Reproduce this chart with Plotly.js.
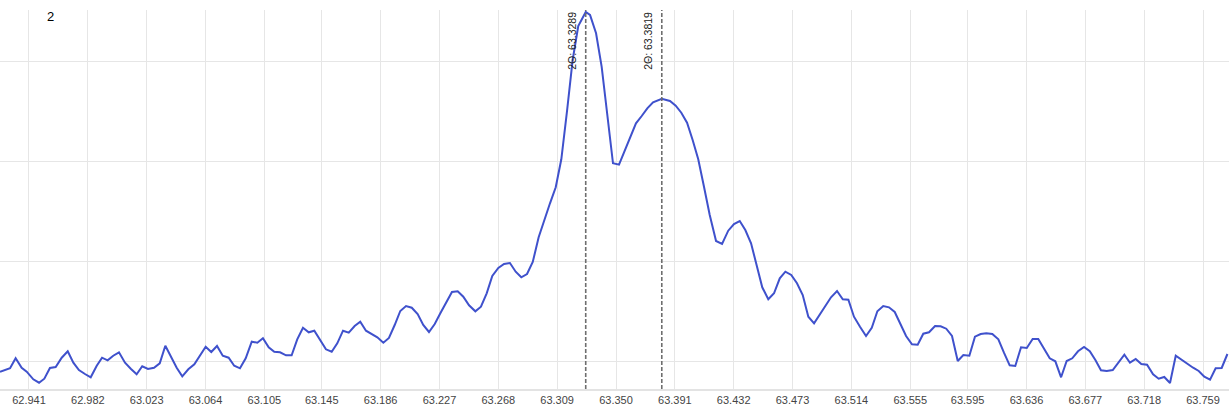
<!DOCTYPE html>
<html>
<head>
<meta charset="utf-8">
<script src="https://cdn.plot.ly/plotly-3.0.1.min.js"></script>
<style>
html,body{margin:0;padding:0;background:#fff;}
#chart{width:1229px;height:415px;}
</style>
</head>
<body>
<div id="chart"></div>
<script>
// 2-theta positions (degrees)
const twoTheta = [
62.9208,62.9241,62.9278,62.9317,62.9359,62.9394,62.9440,62.9480,62.9517,62.9556,
62.9596,62.9638,62.9680,62.9719,62.9758,62.9800,62.9840,62.9882,62.9919,62.9958,
62.9997,63.0037,63.0079,63.0119,63.0160,63.0199,63.0239,63.0281,63.0321,63.0360,
63.0399,63.0439,63.0478,63.0520,63.0562,63.0601,63.0641,63.0680,63.0720,63.0760,
63.0801,63.0840,63.0880,63.0920,63.0962,63.1001,63.1040,63.1080,63.1119,63.1159,
63.1201,63.1240,63.1279,63.1319,63.1359,63.1398,63.1438,63.1479,63.1519,63.1558,
63.1598,63.1638,63.1679,63.1718,63.1758,63.1798,63.1837,63.1879,63.1918,63.1958,
63.1997,63.2037,63.2077,63.2118,63.2157,63.2197,63.2237,63.2276,63.2315,63.2357,
63.2397,63.2436,63.2476,63.2520,63.2559,63.2599,63.2638,63.2680,63.2720,63.2761,
63.2801,63.2840,63.2880,63.2920,63.2961,63.3000,63.3040,63.3080,63.3119,63.3159,
63.3198,63.3237,63.3289,63.3319,63.3361,63.3400,63.3439,63.3479,63.3521,63.3561,
63.3600,63.3639,63.3679,63.3718,63.3758,63.3798,63.3819,63.3876,63.3916,63.3955,
63.3995,63.4034,63.4073,63.4113,63.4153,63.4197,63.4239,63.4282,63.4322,63.4362,
63.4401,63.4441,63.4480,63.4519,63.4561,63.4601,63.4641,63.4680,63.4721,63.4761,
63.4801,63.4840,63.4880,63.4919,63.4958,63.4998,63.5040,63.5080,63.5119,63.5158,
63.5200,63.5242,63.5282,63.5321,63.5362,63.5402,63.5442,63.5481,63.5521,63.5562,
63.5602,63.5641,63.5681,63.5723,63.5762,63.5801,63.5841,63.5881,63.5920,63.5962,
63.6001,63.6041,63.6080,63.6122,63.6164,63.6203,63.6243,63.6282,63.6322,63.6362,
63.6403,63.6442,63.6482,63.6522,63.6561,63.6601,63.6640,63.6679,63.6719,63.6761,
63.6801,63.6840,63.6879,63.6919,63.6961,63.7000,63.7042,63.7081,63.7121,63.7160,
63.7200,63.7242,63.7281,63.7320,63.7360,63.7400,63.7442,63.7481,63.7521,63.7560,
63.7599,63.7639,63.7678,63.7720,63.7760
];
// intensity (counts, arbitrary)
const intensity = [
893,910,927,1027,933,893,817,783,823,930,
940,1033,1097,983,910,870,837,953,1033,1007,
1053,1087,983,923,867,947,920,933,977,1153,
1043,933,847,917,967,1053,1143,1090,1150,1053,
1033,953,927,1027,1193,1183,1227,1137,1093,1087,
1057,1057,1217,1333,1287,1303,1210,1117,1093,1177,
1303,1283,1350,1393,1303,1267,1237,1183,1230,1360,
1500,1550,1533,1470,1360,1290,1370,1477,1583,1690,
1697,1643,1557,1497,1543,1677,1850,1930,1970,1980,
1893,1837,1870,1990,2237,2410,2577,2737,3017,3503,
4010,4350,4490,4460,4277,3943,3443,2977,2963,3100,
3237,3377,3450,3527,3587,3610,3622,3600,3553,3483,
3383,3210,3017,2743,2460,2200,2170,2303,2370,2400,
2310,2177,1943,1737,1617,1677,1827,1893,1860,1777,
1660,1443,1377,1460,1550,1637,1700,1617,1613,1443,
1343,1250,1333,1497,1550,1537,1490,1377,1250,1167,
1163,1273,1287,1350,1347,1323,1250,1000,1060,1053,
1243,1270,1277,1270,1217,1083,957,950,1137,1130,
1220,1220,1123,1027,997,837,1000,1027,1097,1140,
1097,1010,907,900,910,987,1063,983,1020,970,
963,867,823,840,780,1053,1010,967,933,900,
843,813,927,930,1070
];
// peak markers
const peakPositions = [63.3289, 63.3819];
const peakLabels = ['2Θ: 63.3289', '2Θ: 63.3819'];
// x-axis ticks
const tickValues = [62.941,62.982,63.023,63.064,63.105,63.145,63.186,63.227,63.268,63.309,
  63.350,63.391,63.432,63.473,63.514,63.555,63.595,63.636,63.677,63.718,63.759];
const tickLabels = ['62.941','62.982','63.023','63.064','63.105','63.145','63.186','63.227','63.268','63.309',
  '63.350','63.391','63.432','63.473','63.514','63.555','63.595','63.636','63.677','63.718','63.759'];
const seriesName = '2';

const trace = {
  x: twoTheta, y: intensity, type: 'scatter', mode: 'lines',
  name: seriesName,
  line: {color: '#3f51cc', width: 2},
  hoverinfo: 'skip'
};

const shapes = peakPositions.map(p => ({
  type: 'line', xref: 'x', yref: 'paper', x0: p, x1: p, y0: 0, y1: 1,
  line: {color: '#6e6e6e', width: 1.6, dash: '4px,2px'}
}));

const annotations = peakPositions.map((p, i) => ({
  x: p, xref: 'x', y: 0.918, yref: 'paper', text: peakLabels[i],
  showarrow: false, textangle: -90, xanchor: 'center', yanchor: 'middle', xshift: -14,
  font: {family: 'Liberation Sans, Arial, sans-serif', size: 10.5, color: '#222'}
}));
annotations.push({
  x: 50 / 1229, xref: 'paper', y: (389 - 16) / 379, yref: 'paper', text: seriesName,
  showarrow: false, xanchor: 'center', yanchor: 'middle',
  font: {family: 'Liberation Sans, Arial, sans-serif', size: 13, color: '#000'}
});

const layout = {
  width: 1229, height: 415,
  margin: {l: 0, r: 0, t: 10, b: 26, pad: 0},
  paper_bgcolor: '#ffffff', plot_bgcolor: '#ffffff',
  showlegend: false,
  xaxis: {
    range: [62.9208, 63.7771], tickmode: 'array', tickvals: tickValues, ticktext: tickLabels,
    showgrid: true, gridcolor: '#e6e6e6', gridwidth: 1, zeroline: false,
    showline: true, linecolor: '#e3e3e3', linewidth: 2, ticks: '',
    tickfont: {family: 'Liberation Sans, Arial, sans-serif', size: 11, color: '#444'}
  },
  yaxis: {
    range: [720, 4510], tickmode: 'array', tickvals: [1000, 2000, 3000, 4000],
    showticklabels: false, showgrid: true, gridcolor: '#e6e6e6', gridwidth: 1,
    zeroline: false, showline: false, ticks: ''
  },
  shapes: shapes,
  annotations: annotations,
  hovermode: false
};

Plotly.newPlot('chart', [trace], layout, {displayModeBar: false, staticPlot: true});
</script>
</body>
</html>
